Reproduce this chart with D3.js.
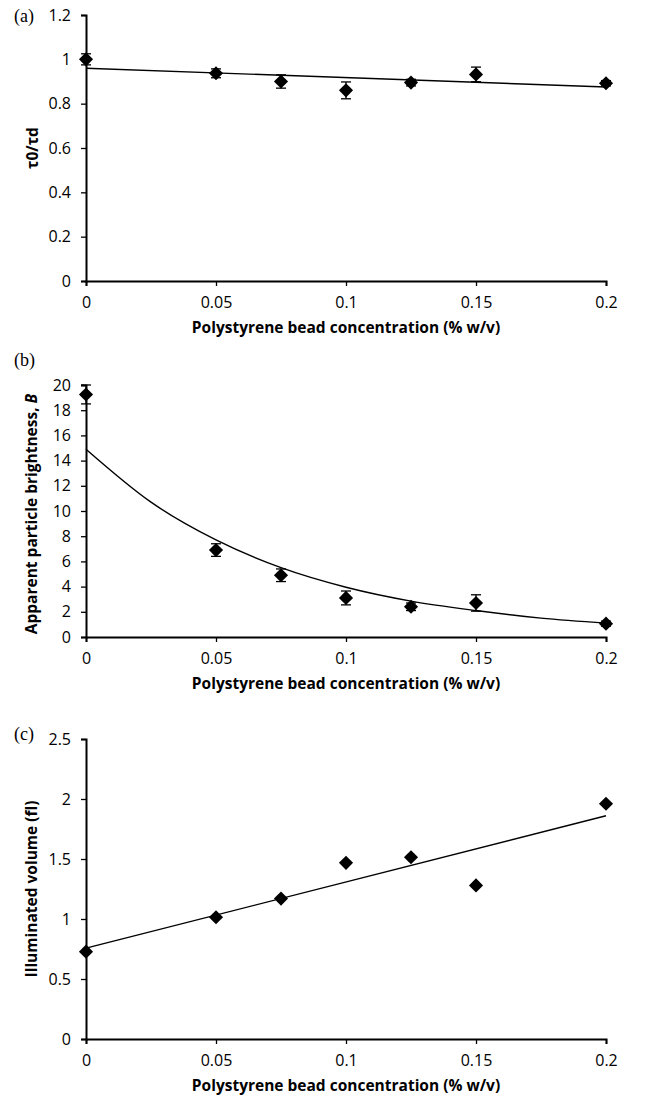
<!DOCTYPE html>
<html><head><meta charset="utf-8">
<script src="https://cdn.jsdelivr.net/npm/d3@7"></script>
<style>body{margin:0;background:#fff}svg{display:block}</style>
</head><body>
<script>
// ---- data ----
const concentrations = [0, 0.05, 0.075, 0.1, 0.125, 0.15, 0.2];
const tauRatio = [1.0, 0.937, 0.90, 0.86, 0.895, 0.932, 0.892];
const tauRatioErr = [0.025, 0.02, 0.03, 0.038, 0.015, 0.033, 0.012];
const tauTrendX = [0, 0.2];
const tauTrendY = [0.96, 0.875];
const brightness = [19.25, 6.9, 4.9, 3.1, 2.4, 2.7, 1.06];
const brightnessErr = [0.75, 0.5, 0.5, 0.55, 0.3, 0.65, 0.2];
const brightTrendX = [0, 0.025, 0.05, 0.075, 0.1, 0.125, 0.15, 0.175, 0.2];
const brightTrendY = [14.9, 10.7, 7.7, 5.5, 3.95, 2.85, 2.1, 1.5, 1.1];
const volume = [0.728, 1.015, 1.17, 1.468, 1.515, 1.28, 1.96];
const volTrendX = [0, 0.2];
const volTrendY = [0.757, 1.86];
const xTicks = [0, 0.05, 0.1, 0.15, 0.2];
const xTickLabels = ["0", "0.05", "0.1", "0.15", "0.2"];
const yTicksA = [0, 0.2, 0.4, 0.6, 0.8, 1, 1.2];
const yTicksB = [0, 2, 4, 6, 8, 10, 12, 14, 16, 18, 20];
const yTicksC = [0, 0.5, 1, 1.5, 2, 2.5];
const xTitle = "Polystyrene bead concentration (% w/v)";

const W = 652, H = 1104;
const svg = d3.select("body").append("svg").attr("width", W).attr("height", H);
const FONT = "'Open Sans', sans-serif";

function panel(o) {
  const g = svg.append("g");
  const x = d3.scaleLinear().domain([0, 0.2]).range([86, 606]);
  const y = d3.scaleLinear().domain(o.yDomain).range([o.bottom, o.top]);
  const xa = g.append("g").attr("transform", `translate(0,${o.bottom})`)
    .call(d3.axisBottom(x).tickValues(xTicks).tickFormat((d,i)=>xTickLabels[i]).tickSizeOuter(0).tickSize(5).tickPadding(11));
  const ya = g.append("g").attr("transform", `translate(86,0)`)
    .call(d3.axisLeft(y).tickValues(o.yTicks).tickFormat(d3.format("")).tickSizeOuter(0).tickSize(5).tickPadding(10));
  [xa, ya].forEach(a => {
    a.select(".domain").attr("stroke", "#000").attr("stroke-width", 2);
    a.selectAll(".tick line").attr("stroke", "#000").attr("stroke-width", 1.3);
    a.selectAll("text").attr("font-family", FONT).attr("font-size", 16).attr("fill", "#000");
  });
  const line = d3.line().x(d => x(d[0])).y(d => y(d[1])).curve(d3.curveMonotoneX);
  g.append("path").datum(o.trendX.map((v,i)=>[v, o.trendY[i]]))
    .attr("d", line).attr("fill", "none").attr("stroke", "#000").attr("stroke-width", 1.4);
  if (o.err) {
    const eb = g.selectAll(".eb").data(concentrations.map((c,i)=>({c, v:o.values[i], e:o.err[i]}))).enter().append("g");
    eb.append("line").attr("x1", d=>x(d.c)).attr("x2", d=>x(d.c)).attr("y1", d=>y(d.v-d.e)).attr("y2", d=>y(d.v+d.e))
      .attr("stroke", "#000").attr("stroke-width", 1.3);
    [-1, 1].forEach(s => eb.append("line").attr("x1", d=>x(d.c)-5).attr("x2", d=>x(d.c)+5)
      .attr("y1", d=>y(d.v+s*d.e)).attr("y2", d=>y(d.v+s*d.e)).attr("stroke", "#000").attr("stroke-width", 1.3));
  }
  g.selectAll(".pt").data(concentrations.map((c,i)=>({c, v:o.values[i]}))).enter().append("path")
    .attr("d", d3.symbol().type(d3.symbolSquare).size(100))
    .attr("transform", d => `translate(${x(d.c)},${y(d.v)}) rotate(45)`).attr("fill", "#000");
  g.append("text").attr("x", 346).attr("y", o.bottom + 52).attr("text-anchor", "middle")
    .attr("font-family", FONT).attr("font-weight", "bold").attr("font-size", 15.5).text(xTitle);
  const yt = g.append("text").attr("transform", `translate(${o.ytX},${o.ytY}) rotate(-90)`)
    .attr("text-anchor", "middle").attr("font-family", FONT).attr("font-weight", "bold").attr("font-size", 15.5);
  o.yTitle.forEach(p => { const t = yt.append("tspan").text(p.t); if (p.i) t.attr("font-style", "italic"); });
  g.append("text").attr("x", 14).attr("y", o.top + o.labelDy).attr("font-family", "'Liberation Serif', serif").attr("font-size", 18).text(o.label);
}

panel({top: 15, bottom: 281, yDomain: [0, 1.2], yTicks: yTicksA, values: tauRatio, err: tauRatioErr,
  trendX: tauTrendX, trendY: tauTrendY, yTitle: [{t: "τ0/τd"}], ytX: 38, ytY: 148, label: "(a)", labelDy: 7});
panel({top: 385, bottom: 637, yDomain: [0, 20], yTicks: yTicksB, values: brightness, err: brightnessErr,
  trendX: brightTrendX, trendY: brightTrendY, yTitle: [{t: "Apparent particle brightness, "}, {t: "B", i: true}], ytX: 37, ytY: 514, label: "(b)", labelDy: -19});
panel({top: 739, bottom: 1039, yDomain: [0, 2.5], yTicks: yTicksC, values: volume, err: null,
  trendX: volTrendX, trendY: volTrendY, yTitle: [{t: "Illuminated volume (fl)"}], ytX: 37, ytY: 889, label: "(c)", labelDy: 1});
</script>
</body></html>
